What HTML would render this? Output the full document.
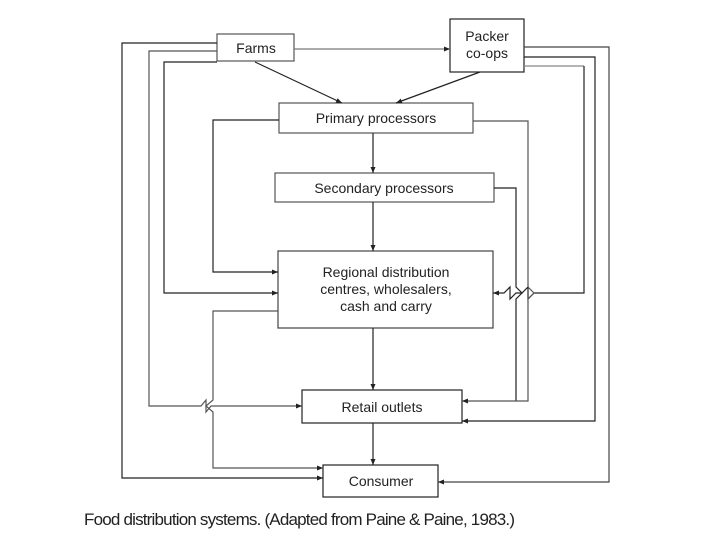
<!DOCTYPE html>
<html><head><meta charset="utf-8"><style>html,body{margin:0;padding:0;background:#fff}svg{display:block}</style></head>
<body>
<svg width="720" height="540" viewBox="0 0 720 540" xmlns="http://www.w3.org/2000/svg" font-family="Liberation Sans, sans-serif">
<defs>
<marker id="a" markerWidth="6" markerHeight="6" refX="6" refY="3" orient="auto" markerUnits="userSpaceOnUse"><path d="M0,0.5 L6,3 L0,5.5z" fill="#222"/></marker>
</defs>
<g fill="none" stroke="#222" stroke-width="1.2">
<rect x="217" y="34" width="77" height="27" stroke="#555"/>
<rect x="450" y="19" width="74" height="53"/>
<rect x="279" y="103" width="194" height="30" stroke="#555"/>
<rect x="275" y="173" width="219" height="29" stroke="#555"/>
<rect x="278" y="251" width="215" height="77" stroke="#444"/>
<rect x="302" y="390" width="160" height="33"/>
<rect x="323" y="465" width="115" height="32"/>
<line x1="294" y1="49" x2="450" y2="49" stroke="#777" marker-end="url(#a)"/>
<line x1="255" y1="62" x2="342" y2="103" marker-end="url(#a)"/>
<line x1="480" y1="72" x2="396" y2="103" marker-end="url(#a)"/>
<line x1="373" y1="133" x2="373" y2="173" marker-end="url(#a)"/>
<line x1="373" y1="202" x2="373" y2="251" marker-end="url(#a)"/>
<line x1="373" y1="328" x2="373" y2="390" marker-end="url(#a)"/>
<line x1="373" y1="423" x2="373" y2="465" marker-end="url(#a)"/>
<polyline points="217,43 122,43 122,478 323,478" marker-end="url(#a)"/>
<polyline points="217,51 149,51 149,406 201,406 206,400 206,412 211,406 302,406" stroke="#555" marker-end="url(#a)"/>
<polyline points="217,62 164,62 164,293 278,293" marker-end="url(#a)"/>
<polyline points="279,120 213,120 213,272 278,272" marker-end="url(#a)"/>
<polyline points="278,311 213,311 213,400 206,406 213,412 213,468 323,468" stroke="#555" marker-end="url(#a)"/>
<polyline points="524,47 609,47 609,482 438,482" stroke="#444" marker-end="url(#a)"/>
<polyline points="524,57 595,57 595,421 462,421" marker-end="url(#a)"/>
<polyline points="524,66 584,66" stroke="#888"/>
<polyline points="584,66 584,293 534,293 528,299 528,287 522,293 516,293 510,299 510,287 504,293 493,293" marker-end="url(#a)"/>
<polyline points="494,188 516,188 516,287 522,293 516,299 516,401" />
<polyline points="473,121 528,121 528,287 534,293 528,299 528,401 462,401" stroke="#555" marker-end="url(#a)"/>
</g>
<g font-size="14" fill="#222" text-anchor="middle">
<text x="256" y="53">Farms</text>
<text x="487" y="41">Packer</text>
<text x="487" y="58">co-ops</text>
<text x="376" y="123">Primary processors</text>
<text x="384" y="193">Secondary processors</text>
<text x="386" y="277">Regional distribution</text>
<text x="386" y="294">centres, wholesalers,</text>
<text x="386" y="311">cash and carry</text>
<text x="382" y="412">Retail outlets</text>
<text x="381" y="486">Consumer</text>
</g>
<text x="84" y="525" font-size="17" fill="#222" textLength="431" lengthAdjust="spacing">Food distribution systems. (Adapted from Paine &amp; Paine, 1983.)</text>
</svg>
</body></html>
